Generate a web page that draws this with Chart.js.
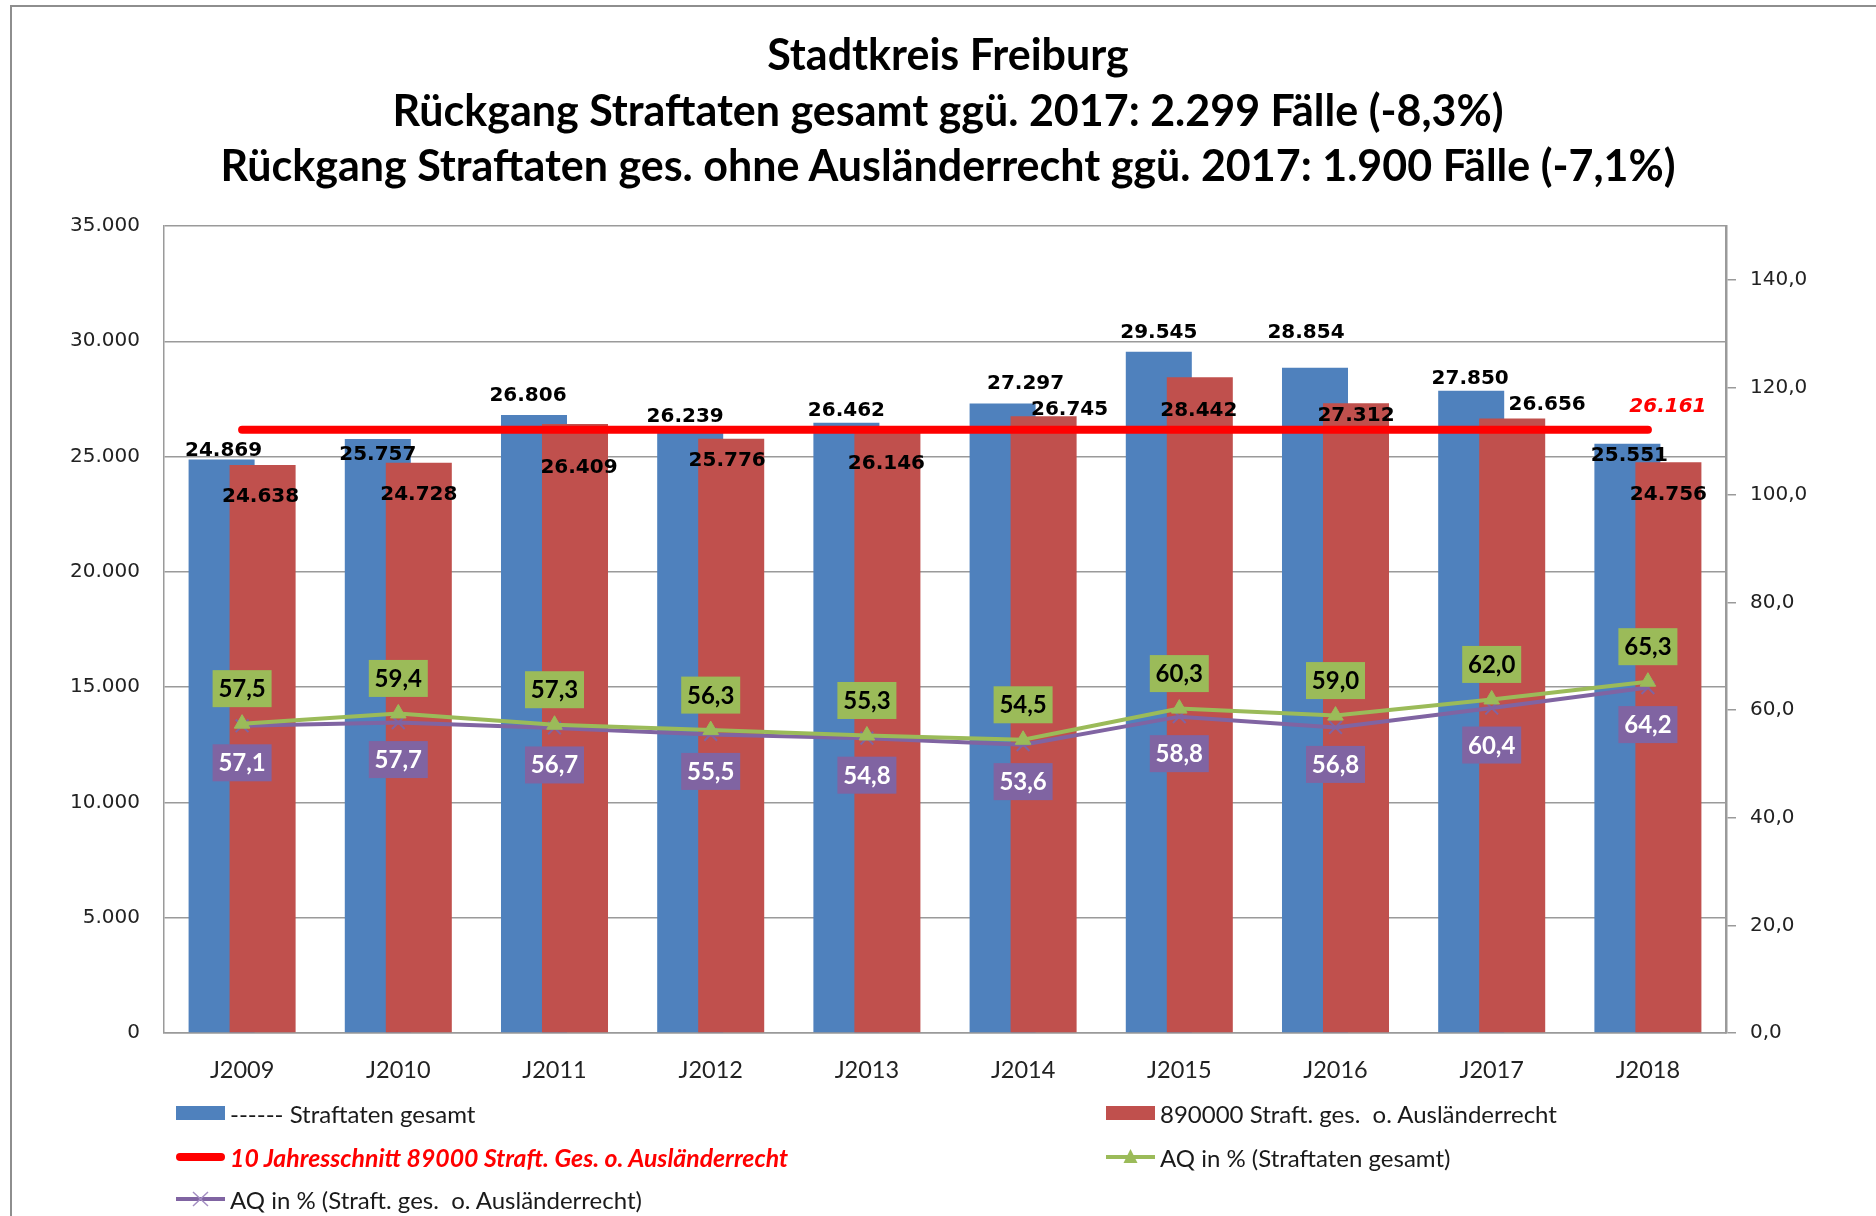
<!DOCTYPE html>
<html>
<head>
<meta charset="utf-8">
<script src="https://cdn.jsdelivr.net/npm/chart.js@4.4.1/dist/chart.umd.min.js"></script>
<style>
  html, body { margin: 0; padding: 0; background: #fff; }
  #wrap { position: relative; width: 1876px; height: 1216px; overflow: hidden; }
  #frame { position: absolute; left: 10px; top: 5px; width: 3000px; height: 3000px;
           border-left: 2px solid #8e8e8e; border-top: 2px solid #8e8e8e; }
  #chart { position: absolute; left: 0; top: 0; }
  #title { position: absolute; left: 0; top: 26px; width: 1896px; text-align: center;
           font: bold 43px Lato, sans-serif; line-height: 55.5px; color: #000; }
  .lg { position: absolute; display: flex; align-items: center; height: 28px;
        font: 24px Lato, sans-serif; color: #1a1a1a; white-space: pre; }
  .lg svg { margin-right: 5px; flex: none; }
</style>
</head>
<body>
<div id="wrap">
  <div id="frame"></div>
  <canvas id="chart" width="1876" height="1216"></canvas>
  <div id="title">Stadtkreis Freiburg<br>Rückgang Straftaten gesamt ggü. 2017: 2.299 Fälle (-8,3%)<br>Rückgang Straftaten ges. ohne Ausländerrecht ggü. 2017: 1.900 Fälle (-7,1%)</div>
  <div id="legend"></div>
</div>
<script>
"use strict";

// Daten
const years = ['J2009', 'J2010', 'J2011', 'J2012', 'J2013', 'J2014', 'J2015', 'J2016', 'J2017', 'J2018'];
const gesamt = [24869, 25757, 26806, 26239, 26462, 27297, 29545, 28854, 27850, 25551];
const ohneAR = [24638, 24728, 26409, 25776, 26146, 26745, 28442, 27312, 26656, 24756];
const schnitt = [26161, 26161, 26161, 26161, 26161, 26161, 26161, 26161, 26161, 26161];
const aqGesamt = [57.5, 59.4, 57.3, 56.3, 55.3, 54.5, 60.3, 59.0, 62.0, 65.3];
const aqOhneAR = [57.1, 57.7, 56.7, 55.5, 54.8, 53.6, 58.8, 56.8, 60.4, 64.2];

// Beschriftungen wurden im Original von Hand verschoben (dx, dy ab Balkenoberkante)
const blueLabelShift = [[2, -11], [0, 14], [-6, -21], [-5, -13.5], [0, -14], [23, -21.5], [0, -20.5], [-9, -37], [-1, -14], [2, 10.5]];
const redLabelShift = [[-2, 30.5], [0, 30.5], [4, 41.5], [-4, 20.5], [-1, 32], [26, -8], [-1, 32], [0, 11], [35, -15], [0, 31]];

const BLUE = '#4F81BD', RED = '#C0504D', GREEN = '#9BBB59', PURPLE = '#8064A2', LINE_RED = '#FF0000';
const AXIS_GRAY = '#9a9a9a';

function fmtInt(v) {
  return String(v).replace(/\B(?=(\d{3})+(?!\d))/g, '.');
}
function fmtDec(v) {
  return v.toFixed(1).replace('.', ',');
}

// rote Balken sollen vor den blauen liegen
const redOnTop = {
  id: 'redOnTop',
  beforeDatasetDraw(chart, args) {
    if (args.index === 1) return false;
  },
  afterDatasetDraw(chart, args) {
    if (args.index === 0) chart.getDatasetMeta(1).controller.draw();
  }
};

const valueLabels = {
  id: 'valueLabels',
  afterDatasetsDraw(chart) {
    const c = chart.ctx;
    c.save();
    c.textAlign = 'center';
    c.textBaseline = 'alphabetic';

    // Balkenwerte
    c.font = 'bold 20px "DejaVu Sans"';
    c.fillStyle = '#000';
    chart.getDatasetMeta(0).data.forEach((bar, i) => {
      c.fillText(fmtInt(gesamt[i]), bar.x + blueLabelShift[i][0], bar.y + blueLabelShift[i][1] + 7);
    });
    chart.getDatasetMeta(1).data.forEach((bar, i) => {
      c.fillText(fmtInt(ohneAR[i]), bar.x + redLabelShift[i][0], bar.y + redLabelShift[i][1] + 7);
    });

    // Schnittwert am Linienende
    const avgPts = chart.getDatasetMeta(2).data;
    const last = avgPts[avgPts.length - 1];
    c.font = 'italic bold 20px "DejaVu Sans"';
    c.fillStyle = LINE_RED;
    c.fillText(fmtInt(schnitt[schnitt.length - 1]), last.x + 20, last.y - 25 + 7);

    // AQ Kästchen
    c.font = 'bold 24px Lato';
    const bw = 59, bh = 37;
    chart.getDatasetMeta(3).data.forEach((pt, i) => {
      const cy = pt.y - 35;
      c.fillStyle = GREEN;
      c.fillRect(pt.x - bw / 2, cy - bh / 2, bw, bh);
      c.fillStyle = '#000';
      c.fillText(fmtDec(aqGesamt[i]), pt.x, cy + 8.5);
    });
    chart.getDatasetMeta(4).data.forEach((pt, i) => {
      const cy = pt.y + 37;
      c.fillStyle = PURPLE;
      c.fillRect(pt.x - bw / 2, cy - bh / 2, bw, bh);
      c.fillStyle = '#fff';
      c.fillText(fmtDec(aqOhneAR[i]), pt.x, cy + 8.5);
    });
    c.restore();
  }
};

const ctx = document.getElementById('chart').getContext('2d');
const chart = new Chart(ctx, {
  type: 'bar',
  data: {
    labels: years,
    datasets: [
      {
        label: '------ Straftaten gesamt',
        data: gesamt,
        backgroundColor: BLUE,
        yAxisID: 'y',
        order: 1,
        categoryPercentage: 0.525,
        barPercentage: 1.61
      },
      {
        label: '890000 Straft. ges.  o. Ausländerrecht',
        data: ohneAR,
        backgroundColor: RED,
        yAxisID: 'y',
        order: 1,
        categoryPercentage: 0.525,
        barPercentage: 1.61
      },
      {
        type: 'line',
        label: '10 Jahresschnitt 89000 Straft. Ges. o. Ausländerrecht',
        data: schnitt,
        borderColor: LINE_RED,
        backgroundColor: LINE_RED,
        borderWidth: 8,
        borderCapStyle: 'round',
        pointRadius: 0,
        yAxisID: 'y',
        order: 0
      },
      {
        type: 'line',
        label: 'AQ in % (Straftaten gesamt)',
        data: aqGesamt,
        borderColor: GREEN,
        backgroundColor: GREEN,
        borderWidth: 4,
        pointStyle: 'triangle',
        pointRadius: 9,
        pointBorderWidth: 1,
        tension: 0,
        yAxisID: 'y1',
        order: 0
      },
      {
        type: 'line',
        label: 'AQ in % (Straft. ges.  o. Ausländerrecht)',
        data: aqOhneAR,
        borderColor: PURPLE,
        backgroundColor: PURPLE,
        borderWidth: 4,
        pointStyle: 'crossRot',
        pointRadius: 9,
        pointBorderWidth: 2,
        tension: 0,
        yAxisID: 'y1',
        order: 0
      }
    ]
  },
  options: {
    responsive: false,
    animation: false,
    devicePixelRatio: 1,
    events: [],
    layout: { padding: { top: 226, left: 0, right: 0, bottom: 123 } },
    plugins: {
      legend: { display: false },
      tooltip: { enabled: false },
      title: { display: false }
    },
    scales: {
      x: {
        grid: { display: false },
        border: { color: AXIS_GRAY, width: 1.5 },
        ticks: { color: '#222', font: { family: 'Lato', size: 23.5 }, padding: 15 },
        afterFit(s) { s.height = 60; }
      },
      y: {
        position: 'left',
        min: 0,
        max: 35000,
        ticks: {
          stepSize: 5000,
          color: '#222',
          font: { family: 'DejaVu Sans', size: 20 },
          padding: 24,
          callback: v => fmtInt(v)
        },
        grid: { color: AXIS_GRAY, lineWidth: 1.5, drawTicks: false },
        border: { color: AXIS_GRAY, width: 1.5 },
        afterFit(s) { s.width = 164; }
      },
      y1: {
        position: 'right',
        min: 0,
        max: 150,
        ticks: {
          stepSize: 20,
          color: '#222',
          font: { family: 'DejaVu Sans', size: 20 },
          padding: 14,
          callback: v => fmtDec(v)
        },
        afterBuildTicks(s) { s.ticks = s.ticks.filter(t => t.value <= 140); },
        grid: { drawOnChartArea: false, color: AXIS_GRAY, lineWidth: 1.5, tickLength: 10 },
        border: { color: AXIS_GRAY, width: 2.5 },
        afterFit(s) { s.width = 150; }
      }
    }
  },
  plugins: [redOnTop, valueLabels]
});

// Legende wie im Original zweispaltig
const legendSpots = [[176, 1113], [1106, 1113], [176, 1157], [1106, 1157], [176, 1199]];
const legendBox = document.getElementById('legend');
chart.data.datasets.forEach((ds, i) => {
  const col = ds.borderColor || ds.backgroundColor;
  let sym;
  if (!ds.type) {
    sym = `<rect x="0" y="3" width="49" height="14" fill="${ds.backgroundColor}"/>`;
  } else if (i === 2) {
    sym = `<line x1="4" y1="10" x2="45" y2="10" stroke="${col}" stroke-width="8" stroke-linecap="round"/>`;
  } else if (ds.pointStyle === 'triangle') {
    sym = `<line x1="0" y1="10" x2="49" y2="10" stroke="${col}" stroke-width="4"/>` +
          `<polygon points="24.5,2 31.5,16 17.5,16" fill="${col}"/>`;
  } else {
    sym = `<line x1="0" y1="10" x2="49" y2="10" stroke="${col}" stroke-width="4"/>` +
          `<path d="M17 3 L32 17 M32 3 L17 17" stroke="#a48fc2" stroke-width="1.5"/>`;
  }
  const item = document.createElement('div');
  item.className = 'lg';
  item.style.left = legendSpots[i][0] + 'px';
  item.style.top = (legendSpots[i][1] - 14) + 'px';
  if (i === 2) {
    item.style.color = LINE_RED;
    item.style.fontWeight = 'bold';
    item.style.fontStyle = 'italic';
    item.style.fontSize = '24.8px';
  }
  item.innerHTML = `<svg width="49" height="20" viewBox="0 0 49 20">${sym}</svg>`;
  const txt = document.createElement('span');
  txt.textContent = ds.label;
  item.appendChild(txt);
  legendBox.appendChild(item);
});
</script>
</body>
</html>
